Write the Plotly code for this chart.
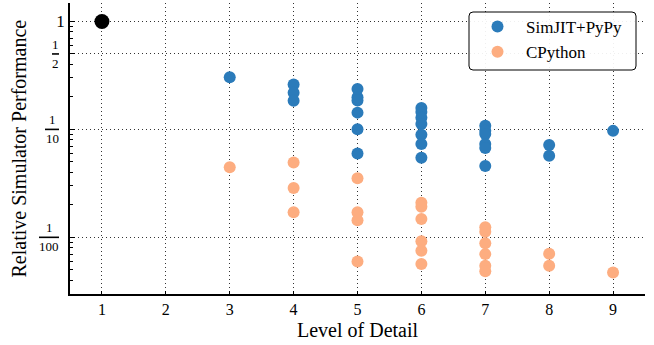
import math
import plotly.graph_objects as go

# ---------------- data ----------------
levels_pypy = [3,
               4, 4, 4,
               5, 5, 5, 5, 5, 5,
               6, 6, 6, 6, 6, 6, 6,
               7, 7, 7, 7, 7, 7,
               8, 8,
               9]
perf_pypy = [0.304,
             0.26, 0.218, 0.184,
             0.237, 0.199, 0.185, 0.143, 0.1005, 0.0597,
             0.158, 0.145, 0.128, 0.112, 0.089, 0.0734, 0.0545,
             0.108, 0.0969, 0.0908, 0.0734, 0.0674, 0.0459,
             0.0718, 0.0569,
             0.0969]

levels_cpy = [3,
              4, 4, 4,
              5, 5, 5, 5,
              6, 6, 6, 6, 6, 6,
              7, 7, 7, 7, 7, 7,
              8, 8,
              9]
perf_cpy = [0.0447,
            0.0493, 0.0287, 0.0171,
            0.0353, 0.0171, 0.0144, 0.00597,
            0.0209, 0.0192, 0.0148, 0.0092, 0.0075, 0.00565,
            0.0124, 0.01124, 0.00883, 0.00699, 0.00545, 0.00484,
            0.00703, 0.00545,
            0.00472]

ref_level = [1]
ref_perf = [1]

x_ticks = [1, 2, 3, 4, 5, 6, 7, 8, 9]
y_ticks = [1, 0.5, 0.1, 0.01]
y_ticktext = ["1", "", "", ""]
# fractional tick labels: value, numerator, denominator
frac_vals = [0.5, 0.1, 0.01]
frac_num = ["1", "1", "1"]
frac_den = ["2", "10", "100"]
y_minor = [0.9, 0.8, 0.7, 0.6, 0.4, 0.3, 0.2,
           0.09, 0.08, 0.07, 0.06, 0.05, 0.04, 0.03, 0.02,
           0.009, 0.008, 0.007, 0.006, 0.005, 0.004, 0.003]

BLUE = "#2b7bba"
ORANGE = "#fdad80"
FONT = "Liberation Serif, Times New Roman, serif"
GRID = "#333333"
GRID_DASH = "1px,3px"

L, R, T, B = 70, 9, 3, 51
PW = 654 - L - R
PH = 345 - T - B


def px2paper_x(px):
    return (px - L) / PW


def px2paper_y(py):
    return 1 - (py - T) / PH


# fraction bar extents in pixels (left, right)
frac_bar_px = [(52, 59), (45, 59), (39, 59)]

fig = go.Figure()
fig.add_trace(go.Scatter(x=levels_pypy, y=perf_pypy, mode="markers", name="SimJIT+PyPy",
                         marker=dict(color=BLUE, size=12)))
fig.add_trace(go.Scatter(x=levels_cpy, y=perf_cpy, mode="markers", name="CPython",
                         marker=dict(color=ORANGE, size=12)))
fig.add_trace(go.Scatter(x=ref_level, y=ref_perf, mode="markers", showlegend=False,
                         marker=dict(color="black", size=15)))

fig.update_layout(
    width=654, height=345,
    margin=dict(l=L, r=R, t=T, b=B),
    plot_bgcolor="white", paper_bgcolor="white",
    font=dict(family=FONT, color="black", size=16),
    showlegend=True,
    legend=dict(x=px2paper_x(469), y=px2paper_y(9), xanchor="left", yanchor="top",
                bgcolor="rgba(0,0,0,0)", borderwidth=0,
                font=dict(family=FONT, size=17), itemsizing="constant", itemwidth=47,
                tracegroupgap=0),
)

# rounded legend frame
bx0, bx1, by0, by1, rad = 469, 636, 12, 70, 4
xs = [px2paper_x(v) for v in (bx0, bx0 + rad, bx1 - rad, bx1)]
ys = [px2paper_y(v) for v in (by0, by0 + rad, by1 - rad, by1)]
path = (f"M {xs[1]} {ys[0]} L {xs[2]} {ys[0]} Q {xs[3]} {ys[0]} {xs[3]} {ys[1]} "
        f"L {xs[3]} {ys[2]} Q {xs[3]} {ys[3]} {xs[2]} {ys[3]} "
        f"L {xs[1]} {ys[3]} Q {xs[0]} {ys[3]} {xs[0]} {ys[2]} "
        f"L {xs[0]} {ys[1]} Q {xs[0]} {ys[0]} {xs[1]} {ys[0]} Z")
fig.add_shape(type="path", path=path, xref="paper", yref="paper", layer="above",
              fillcolor="rgba(255,255,255,0.92)", line=dict(color="black", width=1))

fig.update_xaxes(range=[0.5, 9.5], tickvals=x_ticks, showgrid=True, gridcolor=GRID,
                 griddash=GRID_DASH, gridwidth=1, showline=True, linecolor="black", linewidth=1.5,
                 ticks="inside", ticklen=3, tickcolor="black", zeroline=False,
                 tickfont=dict(size=16, family=FONT), automargin=False)
fig.update_yaxes(type="log", range=[-2.525, 0.171], tickvals=y_ticks, ticktext=y_ticktext,
                 showgrid=True, gridcolor=GRID, griddash=GRID_DASH, gridwidth=1,
                 showline=True, linecolor="black", linewidth=1.5,
                 ticks="inside", ticklen=5, tickcolor="black", zeroline=False,
                 tickfont=dict(size=17, family=FONT), automargin=False,
                 minor=dict(tickvals=y_minor, ticks="inside", ticklen=3, tickcolor="black",
                            showgrid=False))

for v, n, d, (bl, br) in zip(frac_vals, frac_num, frac_den, frac_bar_px):
    fig.add_shape(type="line", xref="paper", yref="y", x0=px2paper_x(bl), x1=px2paper_x(br),
                  y0=v, y1=v, line=dict(color="black", width=1.6))
    xc = px2paper_x((bl + br) / 2)
    fig.add_annotation(text=n, xref="paper", yref="y", x=xc, y=math.log10(v),
                       xanchor="center", yanchor="bottom", showarrow=False,
                       font=dict(family=FONT, size=13))
    fig.add_annotation(text=d, xref="paper", yref="y", x=xc, y=math.log10(v),
                       xanchor="center", yanchor="top", showarrow=False,
                       font=dict(family=FONT, size=13))

fig.add_annotation(text="Level of Detail", xref="paper", yref="paper", x=0.5,
                   y=-(330 - (345 - B)) / PH,
                   showarrow=False, font=dict(family=FONT, size=20), yanchor="middle")
fig.add_annotation(text="Relative Simulator Performance", xref="paper", yref="paper",
                   x=px2paper_x(18), y=0.5, textangle=-90, showarrow=False,
                   font=dict(family=FONT, size=20), xanchor="center", yanchor="middle")

fig.write_html("out.html", post_script="document.body.style.margin='0';",
               config={"displayModeBar": False})
